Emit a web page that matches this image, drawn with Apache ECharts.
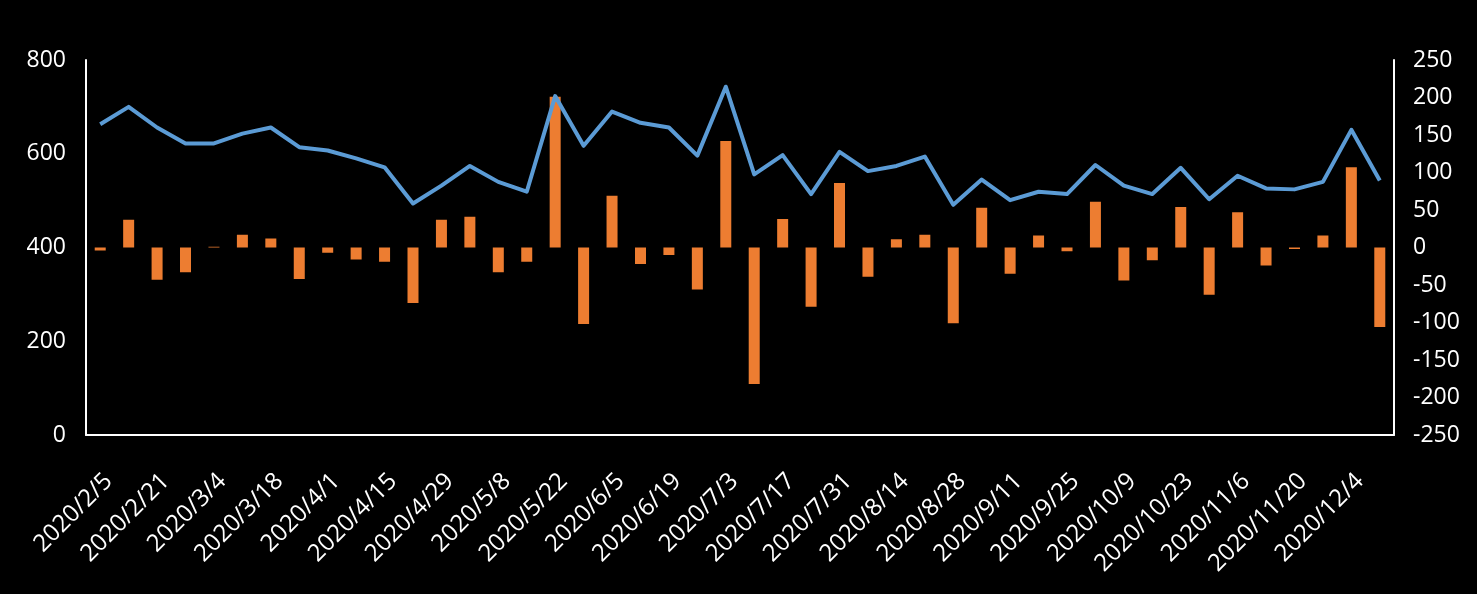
<!DOCTYPE html>
<html>
<head>
<meta charset="utf-8">
<script src="https://cdn.jsdelivr.net/npm/echarts@6/dist/echarts.min.js"></script>
<style>
html,body{margin:0;padding:0;background:#000;}
#chart{width:1477px;height:594px;}
</style>
</head>
<body>
<div id="chart"></div>
<script>
const categories = [
  "2020/2/5","2020/2/14","2020/2/21","2020/2/28","2020/3/4","2020/3/11","2020/3/18","2020/3/25",
  "2020/4/1","2020/4/8","2020/4/15","2020/4/22","2020/4/29","2020/4/30","2020/5/8","2020/5/15",
  "2020/5/22","2020/5/29","2020/6/5","2020/6/12","2020/6/19","2020/6/24","2020/7/3","2020/7/10",
  "2020/7/17","2020/7/24","2020/7/31","2020/8/7","2020/8/14","2020/8/21","2020/8/28","2020/9/4",
  "2020/9/11","2020/9/18","2020/9/25","2020/9/30","2020/10/9","2020/10/16","2020/10/23","2020/10/30",
  "2020/11/6","2020/11/13","2020/11/20","2020/11/27","2020/12/4","2020/12/11"
];
const lineValues = [
  663,700,656,622,622,643,656,614,607,590,571,494,532,574,540,519,
  723,617,690,666,656,596,743,556,597,514,604,563,574,594,491,545,
  501,519,514,576,532,514,570,503,553,526,524,540,651,543
];
const barValues = [
  -4,37,-43,-33,1,17,12,-42,-7,-16,-19,-74,37,41,-33,-19,
  201,-102,69,-22,-10,-56,142,-182,38,-79,86,-39,11,17,-101,53,
  -35,16,-5,61,-44,-17,54,-63,47,-24,-2,16,107,-106
];
const leftTicks = {min:0, max:800, interval:200};
const rightTicks = {min:-250, max:250, interval:50};

const font = '"Open Sans", sans-serif';
const chart = echarts.init(document.getElementById('chart'), null, {renderer:'canvas'});
chart.setOption({
  backgroundColor:'#000000',
  animation:false,
  grid:{left:86, right:83, top:60, bottom:159, containLabel:false},
  xAxis:{
    type:'category',
    data:categories,
    boundaryGap:true,
    axisLine:{show:true, onZero:false, lineStyle:{color:'#ffffff', width:2}},
    axisTick:{show:false},
    axisLabel:{color:'#ffffff', fontFamily:font, fontSize:24, rotate:45, interval:1, margin:34, verticalAlign:'top'}
  },
  yAxis:[
    {
      type:'value', position:'left',
      min:leftTicks.min, max:leftTicks.max, interval:leftTicks.interval,
      axisLine:{show:true, lineStyle:{color:'#ffffff', width:2}},
      axisTick:{show:false},
      splitLine:{show:false},
      axisLabel:{color:'#ffffff', fontFamily:font, fontSize:23, margin:20}
    },
    {
      type:'value', position:'right',
      min:rightTicks.min, max:rightTicks.max, interval:rightTicks.interval,
      axisLine:{show:true, lineStyle:{color:'#ffffff', width:2}},
      axisTick:{show:false},
      splitLine:{show:false},
      axisLabel:{color:'#ffffff', fontFamily:font, fontSize:23, margin:19}
    }
  ],
  series:[
    {
      type:'bar', yAxisIndex:1, data:barValues,
      barWidth:11,
      itemStyle:{color:'#ED7D31'},
      z:2
    },
    {
      type:'line', yAxisIndex:0, data:lineValues,
      symbol:'none',
      lineStyle:{color:'#5B9BD5', width:4, join:'round'},
      z:3
    }
  ]
});
</script>
</body>
</html>
